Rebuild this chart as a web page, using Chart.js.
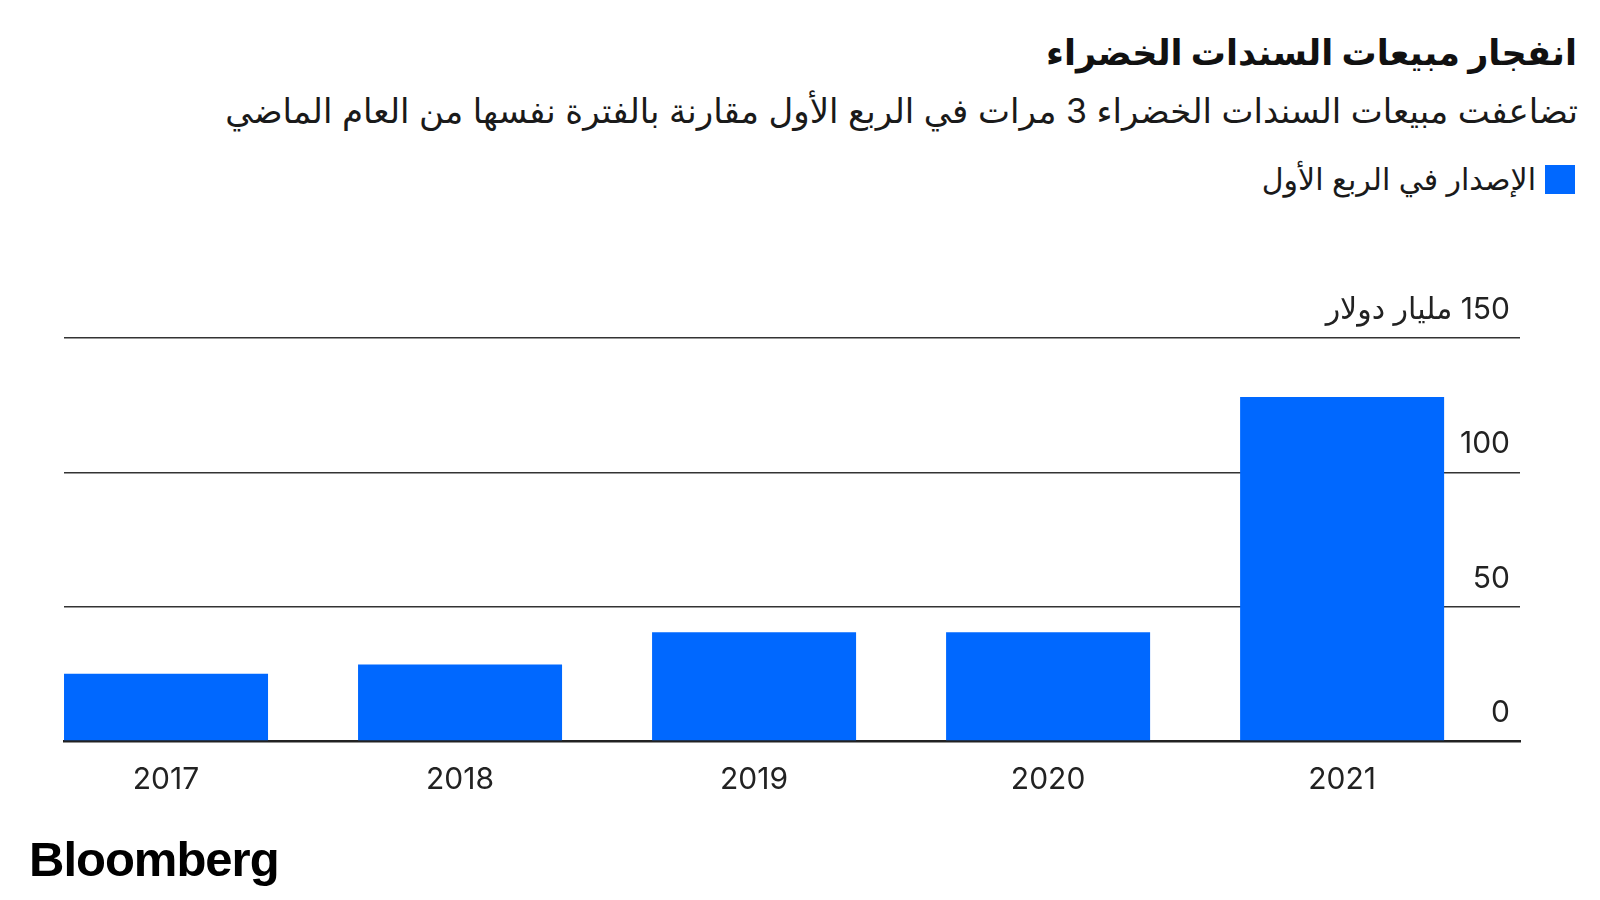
<!DOCTYPE html>
<html lang="ar">
<head>
<meta charset="utf-8">
<script src="https://cdn.jsdelivr.net/npm/chart.js@4.4.1/dist/chart.umd.min.js"></script>
<style>
  html, body { margin: 0; padding: 0; background: #fff; }
  body { width: 1600px; height: 900px; position: relative; overflow: hidden;
         font-family: Inter, "DejaVu Sans", sans-serif; color: #111; }
  #wrap { position: absolute; left: 0; top: 0; width: 1600px; height: 900px; }
  .head { position: absolute; direction: rtl; text-align: right; white-space: nowrap; }
  #title { top: 31px; right: 23px; font-size: 35px; font-weight: bold; }
  #subtitle { top: 90px; right: 22px; font-size: 34px; color: #1a1a1a; }
  #legend { top: 161px; right: 25px; font-size: 30px; display: flex; align-items: center; color: #1a1a1a; }
  #legend .sw { width: 30px; height: 29px; background: #0068ff; margin-left: 9px; }
  #logo { position: absolute; left: 29px; top: 831px; font-family: "Liberation Sans", Arial, sans-serif;
          font-weight: bold; font-size: 49px; letter-spacing: -1px; color: #000; }
  canvas { direction: rtl; }
</style>
</head>
<body>
<div id="title" class="head">انفجار مبيعات السندات الخضراء</div>
<div id="subtitle" class="head">تضاعفت مبيعات السندات الخضراء 3 مرات في الربع الأول مقارنة بالفترة نفسها من العام الماضي</div>
<div id="legend" class="head"><span class="sw"></span><span>الإصدار في الربع الأول</span></div>
<div id="wrap"><canvas id="greenBondChart" width="1600" height="900"></canvas></div>
<div id="logo">Bloomberg</div>
<script>
// Green bond issuance in Q1, billions of dollars
const years = [2017, 2018, 2019, 2020, 2021];
const issuance = [25, 28.5, 40.5, 40.5, 128];
const yTicks = [0, 50, 100, 150];
const unitLabel = 'مليار دولار';
const seriesLabel = 'الإصدار في الربع الأول';

const tickFont = { family: 'Inter, "DejaVu Sans", sans-serif', size: 30 };

document.addEventListener("DOMContentLoaded", function () {
    const ctx = document.getElementById('greenBondChart');

    new Chart(ctx, {
        type: 'bar',
        data: {
            labels: years,
            datasets: [{
                label: seriesLabel,
                data: issuance,
                backgroundColor: '#0068ff',
                categoryPercentage: 1,
                barPercentage: 204 / 294
            }]
        },
        options: {
            responsive: false,
            animation: false,
            layout: { padding: { top: 338, left: 64, right: 80, bottom: 0 } },
            plugins: {
                legend: { display: false },
                tooltip: { enabled: false }
            },
            scales: {
                x: {
                    type: 'linear',
                    offset: false,
                    min: 2016.653,
                    max: 2021.605,
                    afterBuildTicks: function (scale) {
                        scale.ticks = years.map(v => ({ value: v }));
                    },
                    afterFit: function (scale) { scale.height = 159; },
                    grid: { display: false, offset: false },
                    border: { display: true, color: '#222', width: 2.5 },
                    ticks: {
                        font: tickFont,
                        color: '#222',
                        padding: 13,
                        maxRotation: 0,
                        autoSkip: false,
                        callback: v => String(v)
                    }
                },
                y: {
                    position: 'right',
                    min: 0,
                    max: 150,
                    afterBuildTicks: function (scale) {
                        scale.ticks = yTicks.map(v => ({ value: v }));
                    },
                    afterFit: function (scale) { scale.width = 0; },
                    grid: { color: '#333', lineWidth: 1.5, drawTicks: false },
                    border: { display: false },
                    ticks: {
                        mirror: true,
                        padding: -10,
                        labelOffset: -28,
                        font: tickFont,
                        color: '#222',
                        callback: v => v === 150 ? v + ' ' + unitLabel : String(v)
                    }
                }
            }
        }
    });
});
</script>
</body>
</html>
